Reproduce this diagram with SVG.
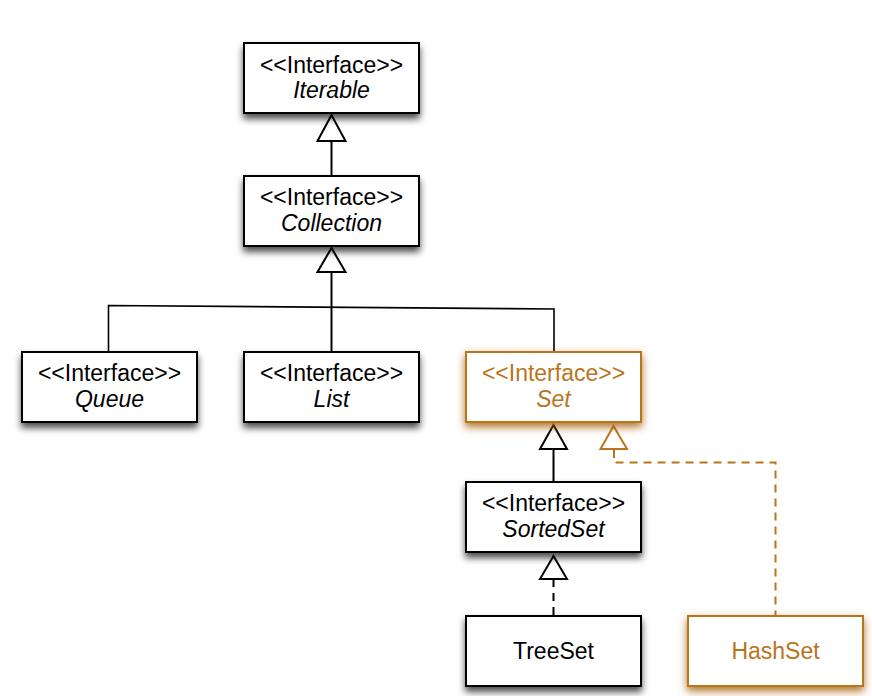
<svg xmlns="http://www.w3.org/2000/svg" width="872" height="696" viewBox="0 0 872 696">
<defs>
<filter id="sh" x="-20%" y="-30%" width="140%" height="170%">
<feDropShadow dx="0" dy="5" stdDeviation="3.5" flood-color="#000" flood-opacity="0.7"/>
</filter>
<filter id="osh" x="-20%" y="-30%" width="140%" height="170%">
<feDropShadow dx="0" dy="4" stdDeviation="4.5" flood-color="#a35a00" flood-opacity="0.85"/>
</filter>
</defs>
<style>
.box{fill:#fff;stroke:#000;stroke-width:2}
.obox{fill:#fff;stroke:#b9751c;stroke-width:2}
text{font-family:"Liberation Sans",Arial,sans-serif;font-size:23px;text-anchor:middle;fill:#000}
.it{font-style:italic}
.o{fill:#b9751c}
.ln{fill:none;stroke:#000;stroke-width:2}
.thin{fill:none;stroke:#000;stroke-width:1.6}
.dash{fill:none;stroke:#000;stroke-width:2;stroke-dasharray:8 6}
.odash{fill:none;stroke:#b9751c;stroke-width:2;stroke-dasharray:8 6}
.tri{fill:#fff;stroke:#000;stroke-width:2}
.otri{fill:#fff;stroke:#b9751c;stroke-width:2}
</style>
<g id="connectors">
<line class="ln" x1="331.5" y1="142" x2="331.5" y2="176"/>
<polygon class="tri" points="331.5,115 317.5,141 345.5,141"/>
<line class="ln" x1="331.5" y1="272" x2="331.5" y2="352"/>
<polyline class="thin" points="108.5,352 108.5,305.5 554,309 554,352"/>
<polygon class="tri" points="331.5,248 317.5,272 345.5,272"/>
<line class="ln" x1="553.5" y1="449" x2="553.5" y2="482"/>
<polygon class="tri" points="553.5,425 540,449 567,449"/>
<line class="dash" x1="553.5" y1="579" x2="553.5" y2="616"/>
<polygon class="tri" points="553.5,556 540,579 567,579"/>
<polyline class="odash" points="614,450 614,462.5 775.5,462.5 775.5,616"/>
<polygon class="otri" points="613.5,426 600.5,449 627,449"/>
</g>
<g id="iterable">
<rect class="box" filter="url(#sh)" x="244" y="43" width="175" height="70"/>
<text x="331.5" y="73">&lt;&lt;Interface&gt;&gt;</text>
<text class="it" x="331.5" y="98">Iterable</text>
</g>
<g id="collection">
<rect class="box" filter="url(#sh)" x="244" y="176" width="175" height="70"/>
<text x="331.5" y="205">&lt;&lt;Interface&gt;&gt;</text>
<text class="it" x="331.5" y="231">Collection</text>
</g>
<g id="queue">
<rect class="box" filter="url(#sh)" x="22" y="352" width="175" height="70"/>
<text x="109.5" y="381">&lt;&lt;Interface&gt;&gt;</text>
<text class="it" x="109.5" y="407">Queue</text>
</g>
<g id="list">
<rect class="box" filter="url(#sh)" x="244" y="352" width="175" height="70"/>
<text x="331.5" y="381">&lt;&lt;Interface&gt;&gt;</text>
<text class="it" x="331.5" y="407">List</text>
</g>
<g id="set">
<rect class="obox" filter="url(#osh)" x="466" y="352" width="175" height="70"/>
<text class="o" x="553.5" y="381">&lt;&lt;Interface&gt;&gt;</text>
<text class="it o" x="553.5" y="407">Set</text>
</g>
<g id="sortedset">
<rect class="box" filter="url(#sh)" x="466" y="482" width="175" height="70"/>
<text x="553.5" y="511">&lt;&lt;Interface&gt;&gt;</text>
<text class="it" x="553.5" y="537">SortedSet</text>
</g>
<g id="treeset">
<rect class="box" filter="url(#sh)" x="466" y="616" width="175" height="70"/>
<text x="553.5" y="659">TreeSet</text>
</g>
<g id="hashset">
<rect class="obox" filter="url(#osh)" x="688" y="616" width="175" height="70"/>
<text class="o" x="775.5" y="659">HashSet</text>
</g>
</svg>
